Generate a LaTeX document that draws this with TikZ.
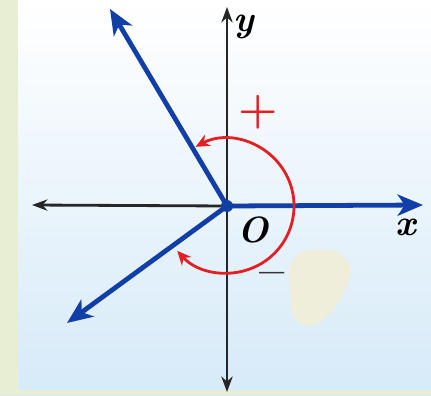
\documentclass[tikz,border=0pt]{standalone}
\usepackage{tikz}
\usetikzlibrary{arrows.meta, calc}
\definecolor{azul}{RGB}{18,62,168}
\definecolor{rojo}{RGB}{226,32,36}
\definecolor{cielo}{RGB}{214,234,248}
\definecolor{crema}{RGB}{238,238,218}
\definecolor{oliva}{RGB}{232,238,212}
\begin{document}
\begin{tikzpicture}[
        x=0.025cm, y=0.025cm,
        axis/.style={line width=2pt, black!85, -{Stealth[length=11pt, width=8pt]}},
        ray/.style={line width=3.4pt, azul, -{Stealth[length=18pt, width=15pt, inset=5pt]}},
        turn/.style={line width=2pt, rojo, {Stealth[length=10pt, width=9pt]}-{Stealth[length=10pt, width=9pt]}},
        lbl/.style={font=\fontsize{26}{26}\selectfont\bfseries\itshape, inner sep=1pt},
        sign/.style={font=\fontsize{32}{32}\selectfont\bfseries}
    ]
        \useasboundingbox (0,0) rectangle (431,395);
        \shade[top color=white, bottom color=cielo] (0,0) rectangle (431,395);
        \fill[oliva] (0,0) rectangle (18,395);
        \fill[oliva] (18,0) rectangle (431,5);
        \fill[crema, rounded corners=14] (288,141) -- (318,147) -- (350,142) -- (352,108) -- (333,92) -- (328,70) -- (292,68) -- cycle;

        \coordinate (O) at (227,189);
        \coordinate (xr) at (423,190);
        \coordinate (xl) at (32,190);
        \coordinate (yt) at (227,388);
        \coordinate (yb) at (227,3);
        \coordinate (ru) at (110,386);
        \coordinate (rd) at (67,72);

        \draw[axis] (O) -- (xl);
        \draw[axis] (O) -- (yt);
        \draw[axis] (O) -- (yb);
        \draw[ray] (O) -- (xr);
        \draw[ray] (O) -- (ru);
        \draw[ray] (O) -- (rd);
        \fill[azul] (O) circle[radius=6];

        \draw[turn] ($(O)+(118:67)$) arc[start angle=118, end angle=-138, radius=67];

        \node[lbl] (xlab) at (406,168) {x};
        \node[lbl] (ylab) at (244,368) {y};
        \node[lbl] (olab) at (253,165) {O};
        \node[sign, rojo] (plus) at (258,283) {+};
        \node[sign, black!80] (minus) at (272,116) {--};
    \end{tikzpicture}
\end{document}
